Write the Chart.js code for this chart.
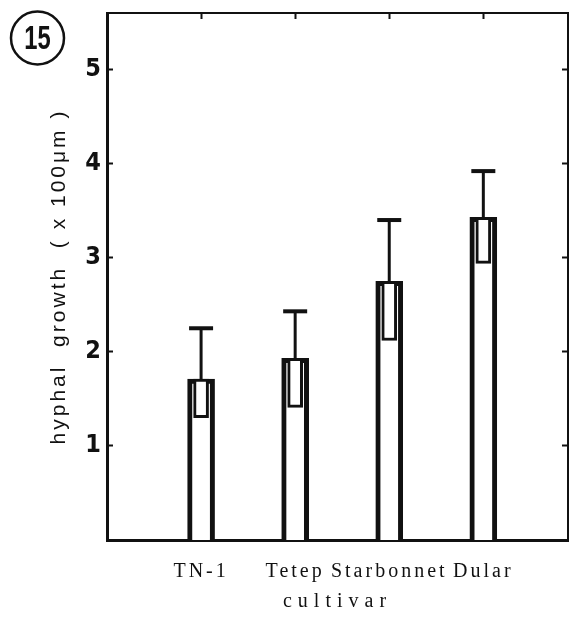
<!DOCTYPE html>
<html>
<head>
<meta charset="utf-8">
<script src="https://cdn.jsdelivr.net/npm/chart.js@4/dist/chart.umd.min.js"></script>
<style>
  html, body { margin: 0; padding: 0; background: #fff; }
</style>
</head>
<body>
<canvas id="growthChart" width="572" height="623"></canvas>
<script>
/* ================= DATA ================= */
const cultivars = ["TN-1", "Tetep", "Starbonnet", "Dular"];
const meanGrowth = [1.71, 1.93, 2.75, 3.43];
const lowerError = [1.30, 1.41, 2.12, 2.94];
const upperError = [2.25, 2.43, 3.40, 3.92];
const yTicks = [1, 2, 3, 4, 5];
const yTitle = "hyphal  growth  ( x 100μm )";
const xTitle = "cultivar";
const panelLabel = "15";

const INK = "#111";

/* ================= HELPERS ================= */
// wrap a scale draw method so its text gets letter spacing (scan looks typewritten)
function spaced(fn, px) {
  return function (...args) {
    const c = this.ctx;
    const old = c.letterSpacing;
    c.letterSpacing = px + "px";
    fn.apply(this, args);
    c.letterSpacing = old;
  };
}

const fixedTicks = values => scale => {
  scale.ticks = values.map(v => ({ value: v }));
};

// pin the box size and drop the label padding chart.js adds round the chart area
const pinBox = (w, h) => s => {
  if (w !== null) s.width = w;
  if (h !== null) s.height = h;
  s.paddingTop = s.paddingBottom = s.paddingLeft = s.paddingRight = 0;
};

/* ================= PLUGINS ================= */
const spacingPlugin = {
  id: "spacing",
  beforeDraw(chart) {
    const { x, y } = chart.scales;
    if (!x._spaced) {
      x.drawLabels = spaced(x.drawLabels, 3);
      x.drawTitle = spaced(x.drawTitle, 6);
      y.drawTitle = spaced(y.drawTitle, 3);
      x._spaced = true;
    }
  }
};

const errorBars = {
  id: "errorBars",
  afterDatasetsDraw(chart) {
    const { ctx, scales: { x, y } } = chart;
    ctx.save();
    ctx.strokeStyle = INK;
    cultivars.forEach((c, i) => {
      const px = x.getPixelForValue(i + 1);
      const yMean = y.getPixelForValue(meanGrowth[i]);
      const yUp = y.getPixelForValue(upperError[i]);
      ctx.lineWidth = 3;
      ctx.beginPath();
      ctx.moveTo(px, yMean);
      ctx.lineTo(px, yUp);
      ctx.stroke();
      ctx.lineWidth = 4;
      ctx.beginPath();
      ctx.moveTo(px - 12, yUp);
      ctx.lineTo(px + 12, yUp);
      ctx.stroke();
    });
    ctx.restore();
  }
};

const panelBadge = {
  id: "panelBadge",
  afterDraw(chart) {
    const ctx = chart.ctx;
    ctx.save();
    ctx.letterSpacing = "0px";
    ctx.strokeStyle = INK;
    ctx.lineWidth = 2.5;
    ctx.beginPath();
    ctx.arc(37.5, 38, 26.5, 0, Math.PI * 2);
    ctx.stroke();
    ctx.translate(37.5, 39);
    ctx.scale(0.72, 1);
    ctx.fillStyle = INK;
    ctx.font = "bold 33px 'Liberation Sans', Arial, sans-serif";
    ctx.textAlign = "center";
    ctx.textBaseline = "middle";
    ctx.fillText(panelLabel, 0, 1);
    ctx.restore();
  }
};

/* ================= CHART ================= */
const ctx = document.getElementById("growthChart").getContext("2d");

new Chart(ctx, {
  type: "bar",
  data: {
    datasets: [
      {
        label: "mean",
        data: cultivars.map((c, i) => ({ x: i + 1, y: meanGrowth[i] })),
        backgroundColor: "#fff",
        borderColor: INK,
        borderWidth: 5,
        barThickness: 27,
        grouped: false,
        order: 2
      },
      {
        label: "lower",
        data: cultivars.map((c, i) => ({ x: i + 1, y: [lowerError[i], meanGrowth[i]] })),
        backgroundColor: "#fff",
        borderColor: INK,
        borderWidth: 3,
        borderSkipped: false,
        barThickness: 15,
        grouped: false,
        order: 1
      }
    ]
  },
  options: {
    responsive: false,
    animation: false,
    layout: { padding: 0 },
    plugins: {
      legend: { display: false },
      tooltip: { enabled: false }
    },
    scales: {
      x: {
        type: "linear",
        position: "bottom",
        offset: false,
        min: 0,
        max: 4.9,
        afterBuildTicks: fixedTicks(cultivars.map((c, i) => i + 1)),
        afterFit: pinBox(null, 83),
        grid: { display: false, drawTicks: false, offset: false },
        border: { color: INK, width: 3 },
        ticks: {
          padding: 20,
          color: INK,
          maxRotation: 0,
          autoSkip: false,
          font: { family: "'Liberation Serif', 'Times New Roman', serif", size: 20 },
          callback: v => cultivars[v - 1] || ""
        },
        title: {
          display: true,
          text: xTitle,
          color: INK,
          padding: { top: 0, bottom: 9 },
          font: { family: "'Liberation Serif', 'Times New Roman', serif", size: 20 }
        }
      },
      x2: {
        type: "linear",
        position: "top",
        offset: false,
        min: 0,
        max: 4.9,
        afterBuildTicks: fixedTicks(cultivars.map((c, i) => i + 1)),
        afterFit: pinBox(null, 13),
        grid: { drawOnChartArea: false, offset: false, tickLength: -6, tickWidth: 2, tickColor: INK },
        border: { color: INK, width: 2 },
        ticks: { display: false }
      },
      y: {
        position: "left",
        min: 0,
        max: 5.6,
        afterBuildTicks: fixedTicks(yTicks),
        afterFit: pinBox(107, null),
        grid: { drawOnChartArea: false, tickLength: -6, tickWidth: 2, tickColor: INK },
        border: { color: INK, width: 3 },
        ticks: {
          padding: 12,
          color: INK,
          font: { family: "'DejaVu Sans Condensed', 'Liberation Sans', sans-serif", size: 25, weight: "bold" }
        },
        title: {
          display: true,
          text: yTitle,
          color: INK,
          padding: { top: 47, bottom: 0 },
          font: { family: "'Liberation Sans', Arial, sans-serif", size: 21 }
        }
      },
      y2: {
        position: "right",
        min: 0,
        max: 5.6,
        afterBuildTicks: fixedTicks(yTicks),
        afterFit: pinBox(4, null),
        grid: { drawOnChartArea: false, tickLength: -6, tickWidth: 2, tickColor: INK },
        border: { color: INK, width: 2 },
        ticks: { display: false }
      }
    }
  },
  plugins: [spacingPlugin, errorBars, panelBadge]
});
</script>
</body>
</html>
